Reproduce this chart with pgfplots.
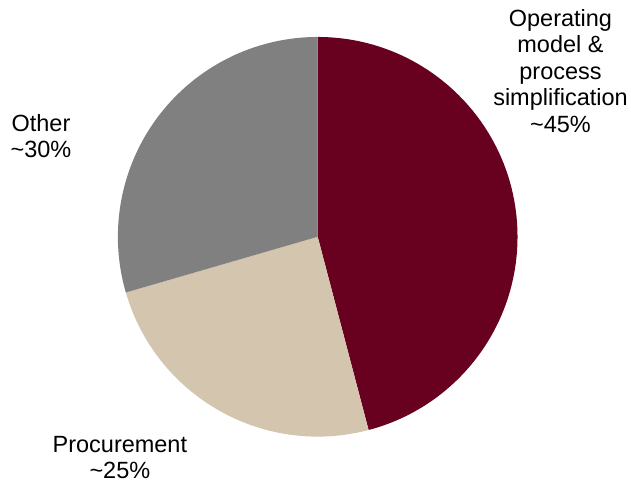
\documentclass[border=0pt]{standalone}
\usepackage{pgfplots}
\pgfplotsset{compat=1.18}
\usepackage{fontspec}
\setmainfont{Liberation Sans}
\definecolor{cOper}{HTML}{680020}
\definecolor{cProc}{HTML}{D3C5AE}
\definecolor{cOther}{HTML}{808080}
% shares in percent (as drawn)
\def\vOper{45.9}
\def\vProc{24.6}
\def\vOther{29.5}
\pgfmathsetmacro{\aA}{90}
\pgfmathsetmacro{\aB}{\aA-3.6*\vOper}
\pgfmathsetmacro{\aC}{\aB-3.6*\vProc}
\pgfmathsetmacro{\aD}{\aC-3.6*\vOther}
\begin{document}
\begin{tikzpicture}
\begin{axis}[
  width=631pt, height=485pt, scale only axis,
  xmin=0, xmax=631, ymin=0, ymax=485,
  hide axis, clip=false,
]
\path (rel axis cs:0,0) rectangle (rel axis cs:1,1);
\fill[cOper]  (axis cs:318,248) -- ++(\aA:200pt) arc[start angle=\aA, end angle=\aB, radius=200pt] -- cycle;
\fill[cProc]  (axis cs:318,248) -- ++(\aB:200pt) arc[start angle=\aB, end angle=\aC, radius=200pt] -- cycle;
\fill[cOther] (axis cs:318,248) -- ++(\aC:200pt) arc[start angle=\aC, end angle=\aD, radius=200pt] -- cycle;
\node[align=center, font=\fontsize{23.5}{26.5}\selectfont] at (axis cs:561,414) {Operating\\model \&\\process\\simplification\\\textasciitilde45\%};
\node[align=center, font=\fontsize{23.5}{26.5}\selectfont] at (axis cs:41,349) {Other\\\textasciitilde30\%};
\node[align=center, font=\fontsize{23.5}{26.5}\selectfont] at (axis cs:120,27) {Procurement\\\textasciitilde25\%};
\end{axis}
\end{tikzpicture}
\end{document}
